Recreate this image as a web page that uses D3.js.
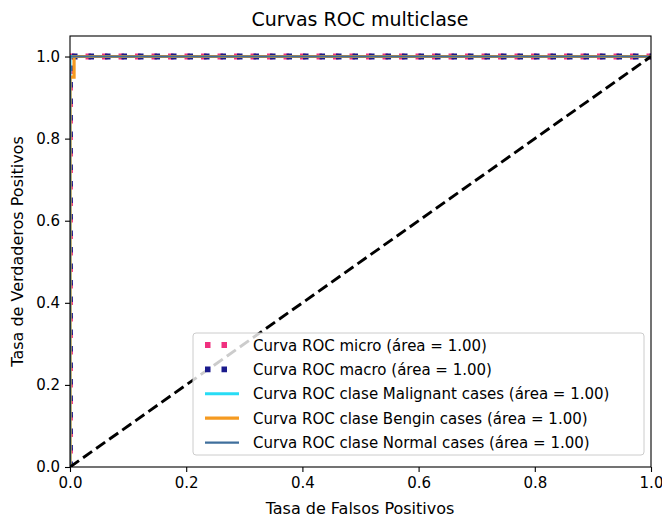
<!DOCTYPE html>
<html>
<head>
<meta charset="utf-8">
<script src="https://cdn.jsdelivr.net/npm/d3@7"></script>
<style>
  body { margin: 0; background: #fff; }
  text { font-family: "DejaVu Sans", sans-serif; fill: #000; }
</style>
</head>
<body>
<svg id="chart" width="662" height="519"></svg>
<script>
// curves (fpr / tpr)
const microFpr = [0, 0, 1]
const microTpr = [0, 1, 1]
const macroFpr = [0, 0, 1]
const macroTpr = [0, 1, 1]
const malignantFpr = [0, 0, 1]
const malignantTpr = [0, 1, 1]
const benginFpr = [0, 0, 0.007, 0.007, 1]
const benginTpr = [0, 0.95, 0.95, 1, 1]
const normalFpr = [0, 0, 1]
const normalTpr = [0, 1, 1]

const xTicks = [0, 0.2, 0.4, 0.6, 0.8, 1.0]
const yTicks = [0, 0.2, 0.4, 0.6, 0.8, 1.0]

const labels = [
  "Curva ROC micro (área = 1.00)",
  "Curva ROC macro (área = 1.00)",
  "Curva ROC clase Malignant cases (área = 1.00)",
  "Curva ROC clase Bengin cases (área = 1.00)",
  "Curva ROC clase Normal cases (área = 1.00)"
]

const series = [
  { fpr: microFpr, tpr: microTpr, color: "#f0307f", width: 5.8, dash: "5.5,11", offset: 3 },
  { fpr: macroFpr, tpr: macroTpr, color: "#1a1a8c", width: 5.8, dash: "5.5,11", offset: 0 },
  { fpr: malignantFpr, tpr: malignantTpr, color: "#28dcf5", width: 2.9, dash: null },
  { fpr: benginFpr, tpr: benginTpr, color: "#f59a20", width: 3.2, dash: null },
  { fpr: normalFpr, tpr: normalTpr, color: "#3f6f9c", width: 2.2, dash: null }
]

const m = { left: 70, right: 651, top: 36, bottom: 467 }
const svg = d3.select("#chart")

const x = d3.scaleLinear().domain([0, 1]).range([m.left, m.right])
const y = d3.scaleLinear().domain([0, 1.05]).range([m.bottom, m.top])

svg.append("clipPath").attr("id", "clip")
  .append("rect")
  .attr("x", m.left).attr("y", m.top)
  .attr("width", m.right - m.left).attr("height", m.bottom - m.top)

const plot = svg.append("g").attr("clip-path", "url(#clip)")
const line = d3.line().x(d => x(d[0])).y(d => y(d[1]))

series.forEach(s => {
  plot.append("path")
    .datum(s.fpr.map((f, i) => [f, s.tpr[i]]))
    .attr("d", line)
    .attr("fill", "none")
    .attr("stroke", s.color)
    .attr("stroke-width", s.width)
    .attr("stroke-dasharray", s.dash)
    .attr("stroke-dashoffset", s.offset || 0)
})

// diagonal
plot.append("path")
  .datum([[0, 0], [1, 1]])
  .attr("d", line)
  .attr("fill", "none")
  .attr("stroke", "black")
  .attr("stroke-width", 2.9)
  .attr("stroke-dasharray", "11,5")

// axes
const xAxis = svg.append("g")
  .attr("transform", `translate(0,${m.bottom})`)
  .call(d3.axisBottom(x).tickValues(xTicks).tickFormat(d3.format(".1f")).tickSizeOuter(0).tickSize(5).tickPadding(5))
const yAxis = svg.append("g")
  .attr("transform", `translate(${m.left},0)`)
  .call(d3.axisLeft(y).tickValues(yTicks).tickFormat(d3.format(".1f")).tickSizeOuter(0).tickSize(5).tickPadding(5))

;[xAxis, yAxis].forEach(a => {
  a.select(".domain").remove()
  a.selectAll("line").attr("stroke", "#000").attr("stroke-width", 1.1)
  a.selectAll("text").style("font-size", "15px").attr("fill", "#222")
})

svg.append("rect")
  .attr("x", m.left).attr("y", m.top)
  .attr("width", m.right - m.left).attr("height", m.bottom - m.top)
  .attr("fill", "none").attr("stroke", "#000").attr("stroke-width", 1.1)

// titles
svg.append("text")
  .attr("x", 360).attr("y", 26)
  .attr("text-anchor", "middle").style("font-size", "19px")
  .text("Curvas ROC multiclase")
svg.append("text")
  .attr("x", 360).attr("y", 514)
  .attr("text-anchor", "middle").style("font-size", "16px")
  .text("Tasa de Falsos Positivos")
svg.append("text")
  .attr("transform", `translate(23,${(m.top + m.bottom) / 2}) rotate(-90)`)
  .attr("text-anchor", "middle").style("font-size", "16px")
  .text("Tasa de Verdaderos Positivos")

// legend
const lg = svg.append("g").attr("transform", "translate(193,333)")
lg.append("rect")
  .attr("width", 451).attr("height", 122).attr("rx", 3)
  .attr("fill", "white").attr("fill-opacity", 0.8)
  .attr("stroke", "#ccc")

series.forEach((s, i) => {
  const row = lg.append("g").attr("transform", `translate(0,${12 + i * 24.4})`)
  row.append("line")
    .attr("x1", 12).attr("x2", s.dash ? 40 : 46).attr("y1", 0).attr("y2", 0)
    .attr("stroke", s.color).attr("stroke-width", s.width)
    .attr("stroke-dasharray", s.dash)
  row.append("text")
    .attr("x", 60).attr("y", 5.5)
    .style("font-size", "15px").attr("fill", "#222")
    .text(labels[i])
})
</script>
</body>
</html>
